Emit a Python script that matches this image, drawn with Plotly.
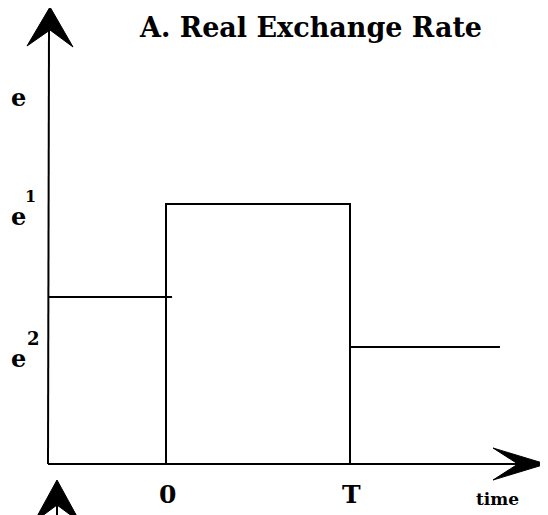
import plotly.graph_objects as go

# ---- data (time in units of T, levels in units of the initial level e) ----
t_pre = [-0.64, 0.033]
e_pre = [1.0, 1.0]
t_mid = [0.0, 0.0, 1.0, 1.0]
e_mid = [0.0, 1.557, 1.557, 0.0]
t_post = [1.0, 1.815]
e_post = [0.70, 0.70]

x_ticks = [0.0, 1.0]
x_ticklabels = ["0", "T"]

OFF = 8  # page body margin in the browser
W, H = 548 - OFF, 515 - OFF
# pixel calibration of the axes (in screen pixels)
X0PX, XSC = 166.0, 184.0
Y0PX, YSC = 464.0, 167.0

def X(px):
    return (px - X0PX) / XSC

def Y(py):
    return (Y0PX - py) / YSC

FONT = "DejaVu Serif"
LINE = dict(color="black", width=2)

fig = go.Figure()
for tx, ty in [(t_pre, e_pre), (t_mid, e_mid), (t_post, e_post)]:
    fig.add_trace(go.Scatter(x=tx, y=ty, mode="lines", line=LINE,
                             showlegend=False, hoverinfo="skip"))

shapes = []
# y axis line and arrow head
shapes.append(dict(type="line", x0=X(48), y0=Y(464), x1=X(49), y1=Y(28),
                   line=LINE, xref="x", yref="y"))
def head(pts):
    p = "M " + " L ".join(f"{X(a):.5f},{Y(b):.5f}" for a, b in pts) + " Z"
    return dict(type="path", path=p, fillcolor="black",
                line=dict(color="black", width=1), xref="x", yref="y")
shapes.append(head([(50, 7), (73, 47), (50, 30), (27, 46)]))
# x axis line and arrow head
shapes.append(dict(type="line", x0=X(48), y0=Y(464), x1=X(522), y1=Y(464),
                   line=LINE, xref="x", yref="y"))
shapes.append(head([(546, 464), (493, 480), (518, 464), (493, 448)]))
# next panel's axis arrow at the bottom
shapes.append(head([(57, 480), (80, 522), (57, 505), (34, 522)]))
shapes.append(dict(type="line", x0=X(57), y0=Y(500), x1=X(57), y1=Y(520),
                   line=LINE, xref="x", yref="y"))

ann = []
def txt(s, px, py, size, bold=False):
    ann.append(dict(text=f"<b>{s}</b>" if bold else s,
                    x=(px - OFF) / W, y=1 - (py - OFF) / H,
                    xref="paper", yref="paper",
                    xanchor="center", yanchor="middle", showarrow=False,
                    font=dict(family=FONT, size=size, color="black")))

txt("A. Real Exchange Rate", 310, 28, 27, bold=True)
txt("e", 18, 97, 24, bold=True)
txt("e", 18, 216, 24, bold=True)
txt("1", 30, 196, 16, bold=True)
txt("e", 18, 358, 24, bold=True)
txt("2", 33, 338, 18, bold=True)
for t, lab in zip(x_ticks, x_ticklabels):
    txt(lab, X0PX + XSC * t + 1, 494, 25, bold=True)
txt("time", 497, 499, 17, bold=True)

fig.update_layout(
    width=W, height=H,
    margin=dict(l=0, r=0, t=0, b=0),
    paper_bgcolor="white", plot_bgcolor="white",
    xaxis=dict(range=[X(OFF), X(OFF + W)], visible=False, fixedrange=True),
    yaxis=dict(range=[Y(OFF + H), Y(OFF)], visible=False, fixedrange=True),
    shapes=shapes, annotations=ann,
)

fig.write_html("out.html")
